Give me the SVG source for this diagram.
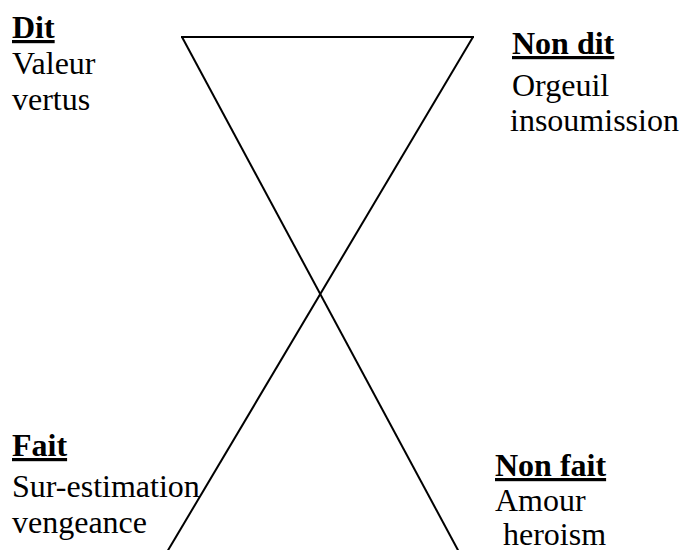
<svg xmlns="http://www.w3.org/2000/svg" width="687" height="550" viewBox="0 0 687 550" font-family="Liberation Serif, Times New Roman, Noto Serif, DejaVu Serif, serif">
<style>
text{font-size:32px;fill:#000}
.h{font-weight:bold;text-decoration:underline}
.ln{stroke:#000;stroke-width:2;fill:none}
</style>
<rect width="687" height="550" fill="#fff"/>
<g id="connectors">
<line class="ln" x1="181" y1="37" x2="474" y2="37"/>
<line class="ln" x1="182" y1="37" x2="459" y2="552"/>
<line class="ln" x1="473" y1="37" x2="167" y2="552"/>
</g>
<g id="dit">
<text class="h" x="12" y="38">Dit</text>
<text x="12" y="74">Valeur</text>
<text x="12" y="110">vertus</text>
</g>
<g id="non-dit">
<text class="h" x="512" y="54">Non dit</text>
<text x="512" y="96">Orgeuil</text>
<text x="510" y="131">insoumission</text>
</g>
<g id="fait">
<text class="h" x="12" y="456">Fait</text>
<text x="12" y="497">Sur-estimation</text>
<text x="12" y="533">vengeance</text>
</g>
<g id="non-fait">
<text class="h" x="495" y="476">Non fait</text>
<text x="495" y="511">Amour</text>
<text x="503" y="545">heroism</text>
</g>
</svg>
